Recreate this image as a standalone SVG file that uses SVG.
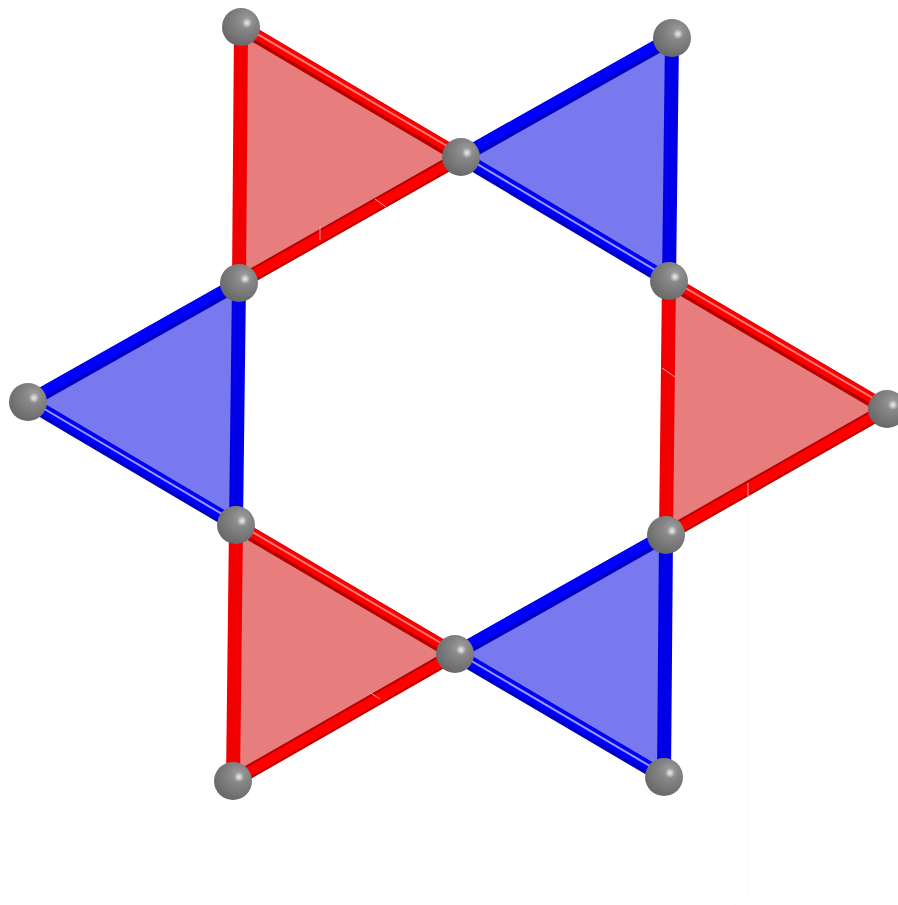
<svg xmlns="http://www.w3.org/2000/svg" width="898" height="905" viewBox="0 0 898 905">
<style>
.rf{fill:#e77d7d}.bf{fill:#7878ef}
.t{fill:none;stroke-linecap:butt}
.rd{stroke:#b80000;stroke-width:14}.rm{stroke:#ff0000;stroke-width:10}.rh{stroke:#ff7a7a;stroke-width:2}
.bd{stroke:#0000c4;stroke-width:14}.bm{stroke:#0000ff;stroke-width:10}.bh{stroke:#9a9aff;stroke-width:2}
.rv{stroke:#f00000;stroke-width:14}.bv{stroke:#0000e8;stroke-width:14}
.ghost{fill:none;stroke:#fbfbfb;stroke-width:1}
.seam{fill:none;stroke:#ff9a9a;stroke-width:1}
.s{fill:url(#ball)}
.hl{fill:url(#shine)}
</style>
<defs>
<radialGradient id="ball" cx="0.62" cy="0.34" r="0.75" fx="0.66" fy="0.32">
<stop offset="0" stop-color="#a0a0a0"/><stop offset="0.35" stop-color="#858585"/><stop offset="1" stop-color="#646464"/>
</radialGradient>
<radialGradient id="shine"><stop offset="0" stop-color="#eeeeee"/><stop offset="1" stop-color="#eeeeee" stop-opacity="0"/></radialGradient>
<circle id="sphere" r="19" class="s"/>
</defs>
<rect width="898" height="905" fill="#fff"/>
<g id="faint">
<path class="ghost" d="M320 235V525M420 225L662 352M748 488V900M400 712L722 892M672 800L736 905"/>
</g>
<g id="faces">
<polygon class="rf" points="241,27 461,157 239,283"/>
<polygon class="bf" points="461,157 672,38 669,281"/>
<polygon class="rf" points="669,281 887,409 666,535"/>
<polygon class="bf" points="666,535 455,654 664,777"/>
<polygon class="rf" points="455,654 236,525 233,781"/>
<polygon class="bf" points="239,283 28,402 236,525"/>
</g>
<g id="connectors">
<path class="t rv" d="M241 27L239 283M669 281L666 535M236 525L233 781"/>
<path class="t rd" d="M461 157L239 283M887 409L666 535M455 654L233 781"/>
<path class="t rm" d="M461 157L239 283M887 409L666 535M455 654L233 781"/>
<path class="t bv" d="M672 38L669 281M239 283L236 525M666 535L664 777"/>
<path class="t bd" d="M672 38L461 157M239 283L28 402M666 535L455 654"/>
<path class="t bm" d="M672 38L461 157M239 283L28 402M666 535L455 654" transform="translate(-1 -1.500)"/>
<path class="t rd" d="M241 27L461 157M669 281L887 409M236 525L455 654"/>
<path class="t rm" d="M241 27L461 157M669 281L887 409M236 525L455 654" transform="translate(0.800 -1.300)"/>
<path class="t rh" d="M241 27L461 157M669 281L887 409M236 525L455 654" transform="translate(1.200 -2)"/>
<path class="t bd" d="M461 157L669 281M28 402L236 525M455 654L664 777"/>
<path class="t bm" d="M461 157L669 281M28 402L236 525M455 654L664 777" transform="translate(0.800 -1.300)"/>
<path class="t bh" d="M461 157L669 281M28 402L236 525M455 654L664 777" transform="translate(1.200 -2)"/>
<path class="seam" d="M320 226V240M375 199L386 207M662 368L675 377M748 483V497M369 692L380 699"/>
</g>
<g id="node-1"><use href="#sphere" x="241" y="27"/><circle class="hl" cx="247" cy="23" r="5"/></g>
<g id="node-2"><use href="#sphere" x="461" y="157"/><circle class="hl" cx="467" cy="153" r="5"/></g>
<g id="node-3"><use href="#sphere" x="239" y="283"/><circle class="hl" cx="245" cy="279" r="5"/></g>
<g id="node-4"><use href="#sphere" x="672" y="38"/><circle class="hl" cx="678" cy="34" r="5"/></g>
<g id="node-5"><use href="#sphere" x="669" y="281"/><circle class="hl" cx="675" cy="277" r="5"/></g>
<g id="node-6"><use href="#sphere" x="28" y="402"/><circle class="hl" cx="34" cy="398" r="5"/></g>
<g id="node-7"><use href="#sphere" x="236" y="525"/><circle class="hl" cx="242" cy="521" r="5"/></g>
<g id="node-8"><use href="#sphere" x="887" y="409"/><circle class="hl" cx="893" cy="405" r="5"/></g>
<g id="node-9"><use href="#sphere" x="666" y="535"/><circle class="hl" cx="672" cy="531" r="5"/></g>
<g id="node-10"><use href="#sphere" x="455" y="654"/><circle class="hl" cx="461" cy="650" r="5"/></g>
<g id="node-11"><use href="#sphere" x="233" y="781"/><circle class="hl" cx="239" cy="777" r="5"/></g>
<g id="node-12"><use href="#sphere" x="664" y="777"/><circle class="hl" cx="670" cy="773" r="5"/></g>
</svg>
